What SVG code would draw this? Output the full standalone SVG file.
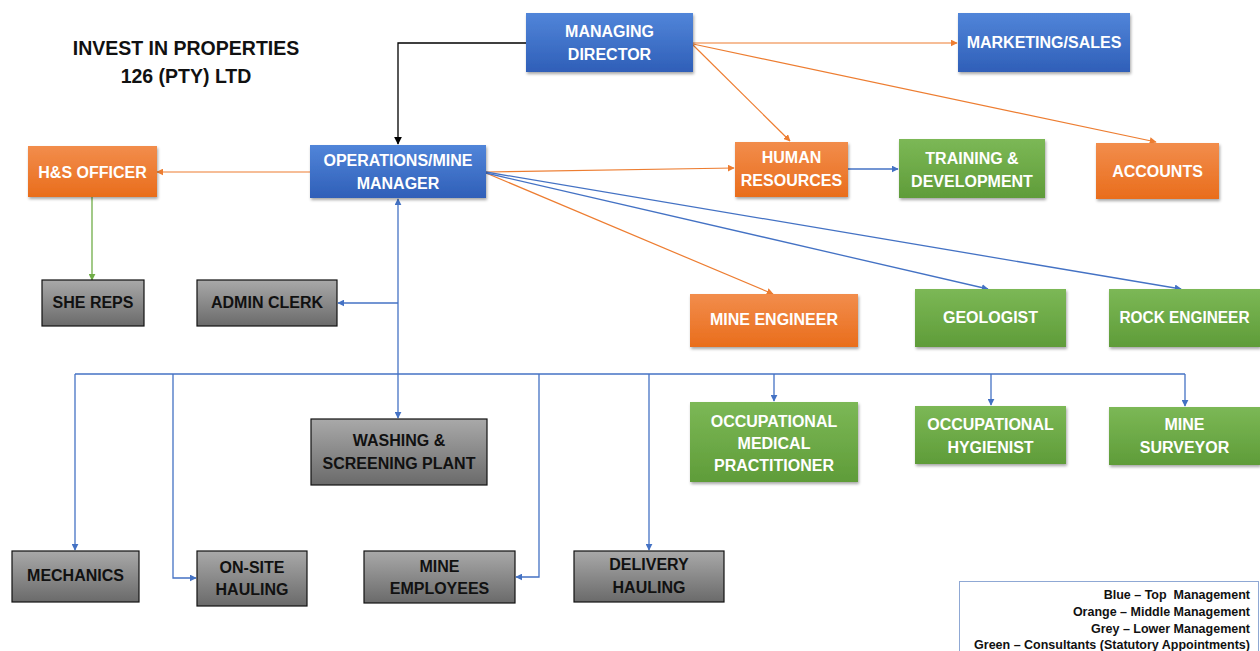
<svg xmlns="http://www.w3.org/2000/svg" width="1260" height="651" viewBox="0 0 1260 651">
<defs>
<linearGradient id="gBlue" x1="0" y1="0" x2="0" y2="1"><stop offset="0" stop-color="#5185d9"/><stop offset="1" stop-color="#2f5fb8"/></linearGradient>
<linearGradient id="gOrange" x1="0" y1="0" x2="0" y2="1"><stop offset="0" stop-color="#f28d4c"/><stop offset="1" stop-color="#e96d1c"/></linearGradient>
<linearGradient id="gGreen" x1="0" y1="0" x2="0" y2="1"><stop offset="0" stop-color="#7cb856"/><stop offset="1" stop-color="#5f9c39"/></linearGradient>
<linearGradient id="gGrey" x1="0" y1="0" x2="0" y2="1"><stop offset="0" stop-color="#a9a9a9"/><stop offset="1" stop-color="#6a6a6a"/></linearGradient>
<filter id="sh" x="-10%" y="-10%" width="125%" height="135%"><feDropShadow dx="1" dy="2" stdDeviation="1.5" flood-color="#000" flood-opacity="0.35"/></filter>
<marker id="aBlue" viewBox="0 0 10 10" refX="9" refY="5" markerWidth="7" markerHeight="7" orient="auto" markerUnits="userSpaceOnUse"><path d="M0,0 L10,5 L0,10 z" fill="#4472c4"/></marker>
<marker id="aOrange" viewBox="0 0 10 10" refX="9" refY="5" markerWidth="7" markerHeight="7" orient="auto" markerUnits="userSpaceOnUse"><path d="M0,0 L10,5 L0,10 z" fill="#ed7d31"/></marker>
<marker id="aGreen" viewBox="0 0 10 10" refX="9" refY="5" markerWidth="7" markerHeight="7" orient="auto" markerUnits="userSpaceOnUse"><path d="M0,0 L10,5 L0,10 z" fill="#70ad47"/></marker>
<marker id="aBlack" viewBox="0 0 10 10" refX="9" refY="5" markerWidth="8" markerHeight="8" orient="auto" markerUnits="userSpaceOnUse"><path d="M0,0 L10,5 L0,10 z" fill="#000"/></marker>
</defs>
<style>
text{font-family:"Liberation Sans",Arial,sans-serif;font-weight:bold;}
.lbl{font-size:16px;fill:#fff;text-anchor:middle;}
.dk{font-size:16px;fill:#111;text-anchor:middle;}
.blue{fill:url(#gBlue);filter:url(#sh);}
.orange{fill:url(#gOrange);filter:url(#sh);}
.green{fill:url(#gGreen);filter:url(#sh);}
.grey{fill:url(#gGrey);stroke:#111;stroke-width:1.2;}
.cb{fill:none;stroke:#4472c4;stroke-width:1.3;}
.co{fill:none;stroke:#ed7d31;stroke-width:1.2;}
.cg{fill:none;stroke:#70ad47;stroke-width:1.3;}
.ck{fill:none;stroke:#000;stroke-width:1.3;}
.title{font-size:19.5px;fill:#111;text-anchor:middle;}
.leg{font-size:12.5px;fill:#111;text-anchor:end;white-space:pre;}
</style>

<g id="title">
<text class="title" x="186" y="55">INVEST IN PROPERTIES</text>
<text class="title" x="186" y="83">126 (PTY) LTD</text>
</g>

<g id="connectors">
<path class="ck" d="M526,43 H398 V144" marker-end="url(#aBlack)"/>
<path class="co" d="M693,43 H957" marker-end="url(#aOrange)"/>
<path class="co" d="M693,45 L790,141" marker-end="url(#aOrange)"/>
<path class="co" d="M693,44 L1156,142" marker-end="url(#aOrange)"/>
<path class="co" d="M310,172 H157" marker-end="url(#aOrange)"/>
<path class="co" d="M486,172 L734,168" marker-end="url(#aOrange)"/>
<path class="cb" d="M848,169 H898" marker-end="url(#aBlue)"/>
<path class="co" d="M486,173 L773,294" marker-end="url(#aOrange)"/>
<path class="cb" d="M486,173 L988,289" marker-end="url(#aBlue)"/>
<path class="cb" d="M486,172 L1181,289" marker-end="url(#aBlue)"/>
<path class="cg" d="M92,197 V280" marker-end="url(#aGreen)"/>
<path class="cb" d="M398,374 V199" marker-end="url(#aBlue)"/>
<path class="cb" d="M398,303 H338" marker-end="url(#aBlue)"/>
<path class="cb" d="M75,374 H1185"/>
<path class="cb" d="M75,374 V550" marker-end="url(#aBlue)"/>
<path class="cb" d="M173,374 V578 H196" marker-end="url(#aBlue)"/>
<path class="cb" d="M398,374 V418" marker-end="url(#aBlue)"/>
<path class="cb" d="M539,374 V577 H516" marker-end="url(#aBlue)"/>
<path class="cb" d="M649,374 V550" marker-end="url(#aBlue)"/>
<path class="cb" d="M774,374 V401" marker-end="url(#aBlue)"/>
<path class="cb" d="M991,374 V405" marker-end="url(#aBlue)"/>
<path class="cb" d="M1185,374 V406" marker-end="url(#aBlue)"/>
</g>

<g id="managing-director"><rect class="blue" x="526" y="13" width="167" height="59"/><text class="lbl" x="609.5" y="37">MANAGING</text><text class="lbl" x="609.5" y="60">DIRECTOR</text></g>
<g id="marketing-sales"><rect class="blue" x="958" y="13" width="172" height="59"/><text class="lbl" x="1044" y="48">MARKETING/SALES</text></g>
<g id="operations-manager"><rect class="blue" x="310" y="145" width="176" height="53"/><text class="lbl" x="398" y="166">OPERATIONS/MINE</text><text class="lbl" x="398" y="189">MANAGER</text></g>
<g id="hs-officer"><rect class="orange" x="28" y="146" width="129" height="51"/><text class="lbl" x="92.5" y="178">H&amp;S OFFICER</text></g>
<g id="human-resources"><rect class="orange" x="735" y="142" width="113" height="55"/><text class="lbl" x="791.5" y="163">HUMAN</text><text class="lbl" x="791.5" y="186">RESOURCES</text></g>
<g id="training-development"><rect class="green" x="899" y="139" width="146" height="59"/><text class="lbl" x="972" y="164">TRAINING &amp;</text><text class="lbl" x="972" y="187">DEVELOPMENT</text></g>
<g id="accounts"><rect class="orange" x="1096" y="143" width="123" height="56"/><text class="lbl" x="1157.5" y="177">ACCOUNTS</text></g>
<g id="she-reps"><rect class="grey" x="42" y="280" width="102" height="46"/><text class="dk" x="93" y="308">SHE REPS</text></g>
<g id="admin-clerk"><rect class="grey" x="197" y="280" width="140" height="46"/><text class="dk" x="267" y="308">ADMIN CLERK</text></g>
<g id="mine-engineer"><rect class="orange" x="690" y="294" width="168" height="53"/><text class="lbl" x="774" y="325">MINE ENGINEER</text></g>
<g id="geologist"><rect class="green" x="915" y="289" width="151" height="58"/><text class="lbl" x="990.5" y="323">GEOLOGIST</text></g>
<g id="rock-engineer"><rect class="green" x="1109" y="289" width="151" height="58"/><text class="lbl" x="1184.5" y="323" textLength="130" lengthAdjust="spacingAndGlyphs">ROCK ENGINEER</text></g>
<g id="washing-screening"><rect class="grey" x="311" y="419" width="176" height="66"/><text class="dk" x="399" y="446">WASHING &amp;</text><text class="dk" x="399" y="469">SCREENING PLANT</text></g>
<g id="occupational-medical"><rect class="green" x="690" y="402" width="168" height="80"/><text class="lbl" x="774" y="427">OCCUPATIONAL</text><text class="lbl" x="774" y="449">MEDICAL</text><text class="lbl" x="774" y="471">PRACTITIONER</text></g>
<g id="occupational-hygienist"><rect class="green" x="915" y="406" width="151" height="58"/><text class="lbl" x="990.5" y="430">OCCUPATIONAL</text><text class="lbl" x="990.5" y="453">HYGIENIST</text></g>
<g id="mine-surveyor"><rect class="green" x="1109" y="407" width="151" height="58"/><text class="lbl" x="1184.5" y="430">MINE</text><text class="lbl" x="1184.5" y="453">SURVEYOR</text></g>
<g id="mechanics"><rect class="grey" x="12" y="551" width="127" height="51"/><text class="dk" x="75.5" y="581">MECHANICS</text></g>
<g id="onsite-hauling"><rect class="grey" x="197" y="551" width="110" height="55"/><text class="dk" x="252" y="573">ON-SITE</text><text class="dk" x="252" y="595">HAULING</text></g>
<g id="mine-employees"><rect class="grey" x="364" y="551" width="151" height="52"/><text class="dk" x="439.5" y="572">MINE</text><text class="dk" x="439.5" y="594">EMPLOYEES</text></g>
<g id="delivery-hauling"><rect class="grey" x="574" y="551" width="150" height="51"/><text class="dk" x="649" y="570">DELIVERY</text><text class="dk" x="649" y="593">HAULING</text></g>

<g id="legend">
<rect x="959.5" y="581.5" width="299" height="80" fill="#fff" stroke="#8fa8d4" stroke-width="1"/>
<text class="leg" x="1250" y="599">Blue – Top  Management</text>
<text class="leg" x="1250" y="616">Orange – Middle Management</text>
<text class="leg" x="1250" y="633">Grey – Lower Management</text>
<text class="leg" x="1250" y="649">Green – Consultants (Statutory Appointments)</text>
</g>
</svg>
